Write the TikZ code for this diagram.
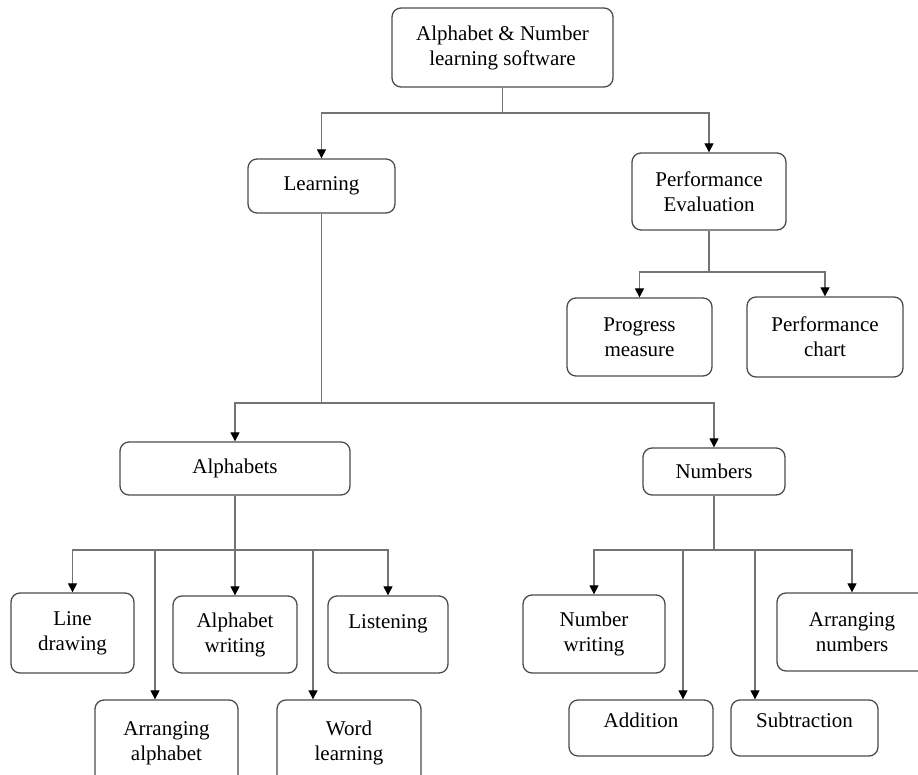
\documentclass[tikz,border=0pt]{standalone}
\usepackage{fontspec}
\setmainfont{Liberation Serif}
\usepackage{tikz}
\usetikzlibrary{arrows.meta}

\tikzset{
  box/.style={draw=black!70, line width=1.3pt, rounded corners=9pt, fill=white,
    align=center, inner sep=0pt, font=\fontsize{21}{25}\selectfont},
  link/.style={draw=black!55, line width=1.2pt},
  tip/.style={-{Triangle[length=9pt,width=9pt,color=black]}}
}

\begin{document}
\begin{tikzpicture}[x=1pt,y=-1pt]
		\useasboundingbox (0,0) rectangle (918,775);
		\fill[white] (0,0) rectangle (918,775);
		\clip (0,0) rectangle (918,775);
		% top levels
		\node[box, minimum width=221pt, minimum height=79pt] (soft) at (502.5,47.5) {Alphabet \& Number\\learning software};
		\node[box, minimum width=147pt, minimum height=54pt] (learn) at (321.5,186) {Learning};
		\node[box, minimum width=154pt, minimum height=77pt] (perf) at (709,191.5) {Performance\\Evaluation};
		\node[box, minimum width=145pt, minimum height=78pt] (prog) at (639.5,337) {Progress\\measure};
		\node[box, minimum width=156pt, minimum height=80pt] (chart) at (825,337) {Performance\\chart};
		\node[box, minimum width=230pt, minimum height=53pt] (alpha) at (235,468.5) {Alphabets};
		\node[box, minimum width=142pt, minimum height=47pt] (num) at (714,471.5) {Numbers};
		% alphabet activities
		\node[box, minimum width=123pt, minimum height=80pt] (line) at (72.5,633) {Line\\drawing};
		\node[box, minimum width=124pt, minimum height=77pt] (awrite) at (235,634.5) {Alphabet\\writing};
		\node[box, minimum width=120pt, minimum height=77pt] (listen) at (388,634.5) {Listening\\\mbox{}};
		\node[box, minimum width=143pt, minimum height=86pt] (arralpha) at (166.5,743) {Arranging\\alphabet};
		\node[box, minimum width=144pt, minimum height=86pt] (word) at (349,743) {Word\\learning};
		% number activities
		\node[box, minimum width=142pt, minimum height=78pt] (nwrite) at (594,634) {Number\\writing};
		\node[box, minimum width=150pt, minimum height=78pt] (arrnum) at (852,632) {Arranging\\numbers};
		\node[box, minimum width=144pt, minimum height=56pt, text depth=16pt] (add) at (641,728) {Addition};
		\node[box, minimum width=147pt, minimum height=56pt, text depth=16pt] (sub) at (804.5,728) {Subtraction};
		% buses
		\coordinate (topbus) at (502.5,113);
		\coordinate (lbus) at (321.5,403);
		\coordinate (pbus) at (709,272);
		\coordinate (abus) at (235,550);
		\coordinate (nbus) at (714,550);
		\draw[link] (soft.south) -- (topbus);
		\draw[link,tip] (topbus) -| (learn.north);
		\draw[link,tip] (topbus) -| (perf.north);
		\draw[link] (learn.south) -- (lbus);
		\draw[link,tip] (lbus) -| (alpha.north);
		\draw[link,tip] (lbus) -| (num.north);
		\draw[link] (perf.south) -- (pbus);
		\draw[link,tip] (pbus) -| (prog.north);
		\draw[link,tip] (pbus) -| (chart.north);
		\draw[link] (alpha.south) -- (abus);
		\draw[link,tip] (abus) -| (line.north);
		\draw[link,tip] (abus) -- (awrite.north);
		\draw[link,tip] (abus) -| (listen.north);
		\draw[link,tip] (abus) -| ([xshift=-11.5pt]arralpha.north);
		\draw[link,tip] (abus) -| ([xshift=-36pt]word.north);
		\draw[link] (num.south) -- (nbus);
		\draw[link,tip] (nbus) -| (nwrite.north);
		\draw[link,tip] (nbus) -| (arrnum.north);
		\draw[link,tip] (nbus) -| ([xshift=42pt]add.north);
		\draw[link,tip] (nbus) -| ([xshift=-49.5pt]sub.north);
	\end{tikzpicture}
\end{document}
